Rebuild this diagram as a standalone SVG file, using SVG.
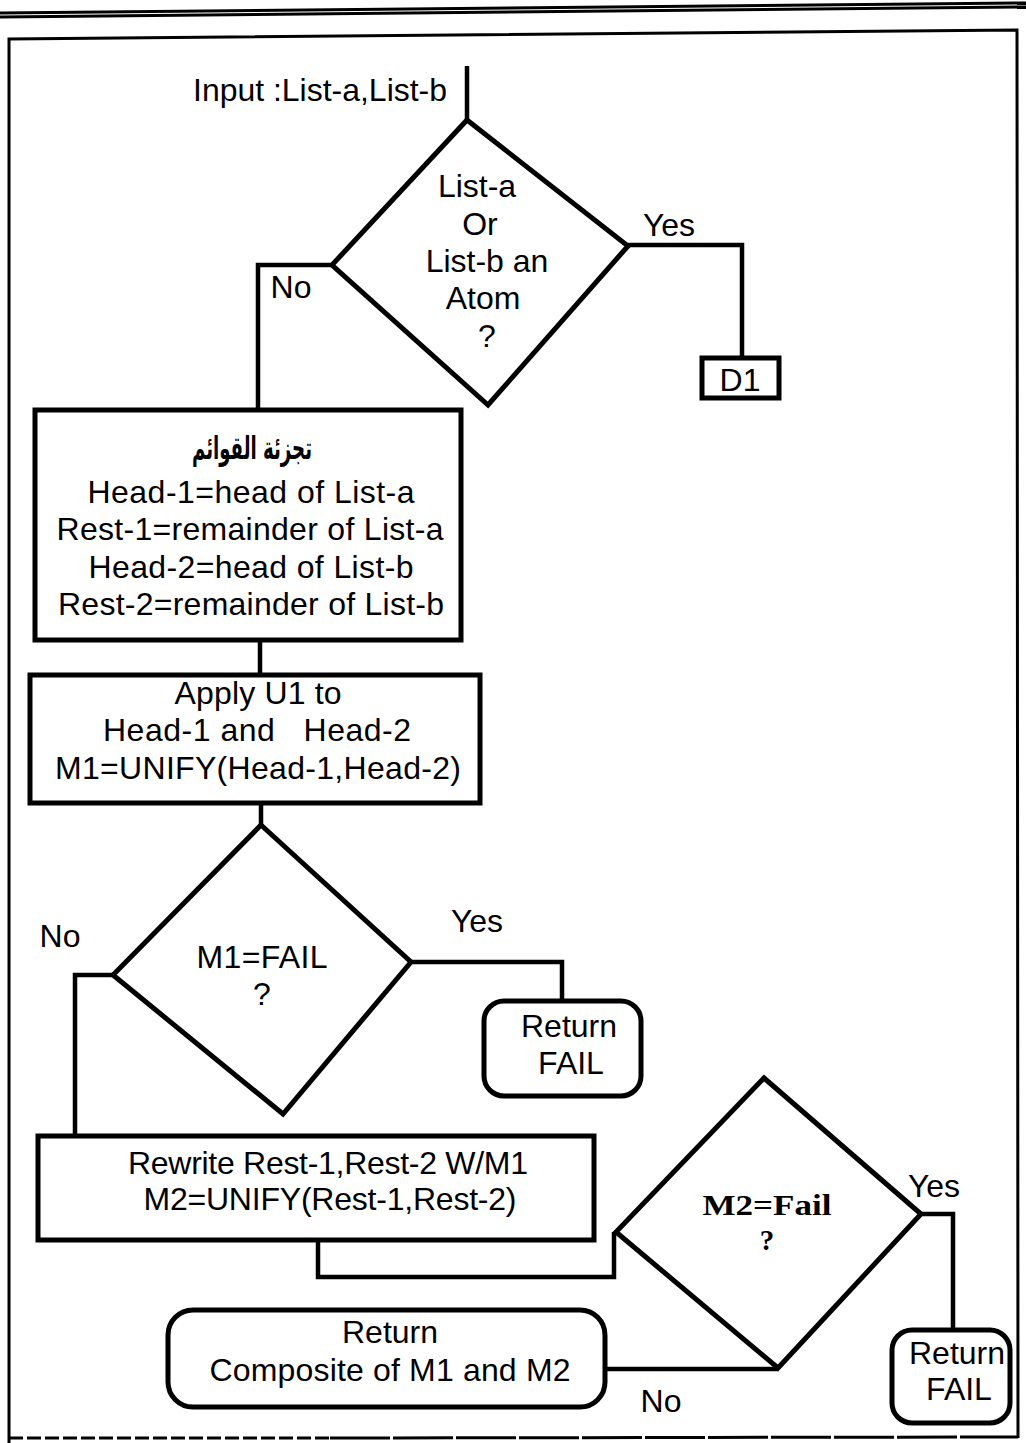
<svg xmlns="http://www.w3.org/2000/svg" width="1026" height="1443" viewBox="0 0 1026 1443">
<style>
.s{fill:none;stroke:#000;stroke-width:5;stroke-linejoin:miter}
.c{fill:none;stroke:#000;stroke-width:4.5}
.f{fill:none;stroke:#000;stroke-width:3}
text{font-family:"Liberation Sans",Arial,sans-serif;font-size:32px;fill:#000;text-anchor:middle}
.sf{font-family:"Liberation Serif","Times New Roman",serif;font-weight:bold;font-size:29px}
.ar{font-family:"DejaVu Sans","Noto Sans",sans-serif;font-weight:bold;font-size:32px}
</style>
<rect width="1026" height="1443" fill="#fff"/>
<g id="page">
<line x1="0" y1="13" x2="1026" y2="3" class="f" stroke-width="2"/>
<line x1="0" y1="17" x2="1026" y2="7" class="f" stroke-width="2"/>
<polyline points="9,1443 9,39 1017,30 1018,1438" class="f"/>
<line x1="9" y1="1438" x2="330" y2="1438" class="f" stroke-width="2" stroke-dasharray="14,4"/>
<line x1="330" y1="1438" x2="1018" y2="1437" class="f" stroke-width="2.5" stroke-dasharray="60,3"/>
</g>
<g id="connectors">
<line x1="467" y1="66" x2="467" y2="122" class="c"/>
<polyline points="628,245 742,245 742,358" class="c"/>
<polyline points="332,265 258,265 258,410" class="c"/>
<line x1="260" y1="640" x2="260" y2="675" class="c"/>
<line x1="261" y1="803" x2="261" y2="826" class="c"/>
<polyline points="411,962 562,962 562,1001" class="c"/>
<polyline points="113,975 75,975 75,1137" class="c"/>
<polyline points="318,1240 318,1277 614,1277 614,1232" class="c"/>
<polyline points="921,1214 953,1214 953,1330" class="c"/>
<line x1="778" y1="1369" x2="605" y2="1369" class="c"/>
</g>
<g id="input">
<text x="320" y="101" textLength="254" lengthAdjust="spacingAndGlyphs">Input :List-a,List-b</text>
</g>
<g id="decision1">
<polygon points="467,120 628,246 488,405 332,265" class="s"/>
<text x="477" y="197">List-a</text>
<text x="480" y="235">Or</text>
<text x="487" y="272">List-b an</text>
<text x="483" y="309">Atom</text>
<text x="487" y="347">?</text>
<text x="669" y="236">Yes</text>
<text x="291" y="298">No</text>
</g>
<g id="d1">
<rect x="702" y="358" width="77" height="40" class="s"/>
<text x="740" y="391">D1</text>
</g>
<g id="split">
<rect x="35" y="410" width="426" height="230" class="s"/>
<text x="252" y="459" class="ar" textLength="120" lengthAdjust="spacingAndGlyphs">تجزئة القوائم</text>
<text x="251" y="503" textLength="327" lengthAdjust="spacing">Head-1=head of List-a</text>
<text x="250" y="540" textLength="387" lengthAdjust="spacing">Rest-1=remainder of List-a</text>
<text x="251" y="578" textLength="325" lengthAdjust="spacing">Head-2=head of List-b</text>
<text x="251" y="615" textLength="386" lengthAdjust="spacing">Rest-2=remainder of List-b</text>
</g>
<g id="apply">
<rect x="30" y="675" width="450" height="128" class="s"/>
<text x="258" y="704" textLength="167" lengthAdjust="spacing">Apply U1 to</text>
<text x="257" y="741" textLength="308" lengthAdjust="spacing" xml:space="preserve">Head-1 and   Head-2</text>
<text x="258" y="779" textLength="406" lengthAdjust="spacing">M1=UNIFY(Head-1,Head-2)</text>
</g>
<g id="decision2">
<polygon points="261,825 411,962 283,1114 113,975" class="s"/>
<text x="262" y="968" textLength="131" lengthAdjust="spacing">M1=FAIL</text>
<text x="262" y="1005">?</text>
<text x="477" y="932">Yes</text>
<text x="60" y="947">No</text>
</g>
<g id="fail1">
<rect x="484" y="1001" width="157" height="95" rx="20" class="s"/>
<text x="569" y="1037">Return</text>
<text x="571" y="1074">FAIL</text>
</g>
<g id="rewrite">
<rect x="38" y="1136" width="556" height="104" class="s"/>
<text x="328" y="1174" textLength="400" lengthAdjust="spacing">Rewrite Rest-1,Rest-2 W/M1</text>
<text x="330" y="1210" textLength="373" lengthAdjust="spacing">M2=UNIFY(Rest-1,Rest-2)</text>
</g>
<g id="decision3">
<polygon points="764,1078 921,1214 778,1368 616,1232" class="s"/>
<text x="767" y="1215" class="sf" textLength="129" lengthAdjust="spacingAndGlyphs">M2=Fail</text>
<text x="767" y="1250" class="sf">?</text>
<text x="934" y="1197">Yes</text>
<text x="661" y="1412">No</text>
</g>
<g id="fail2">
<rect x="892" y="1330" width="118" height="93" rx="20" class="s"/>
<text x="957" y="1364">Return</text>
<text x="959" y="1400">FAIL</text>
</g>
<g id="composite">
<rect x="168" y="1310" width="437" height="97" rx="25" class="s"/>
<text x="390" y="1343">Return</text>
<text x="390" y="1381" textLength="361" lengthAdjust="spacing">Composite of M1 and M2</text>
</g>
</svg>
